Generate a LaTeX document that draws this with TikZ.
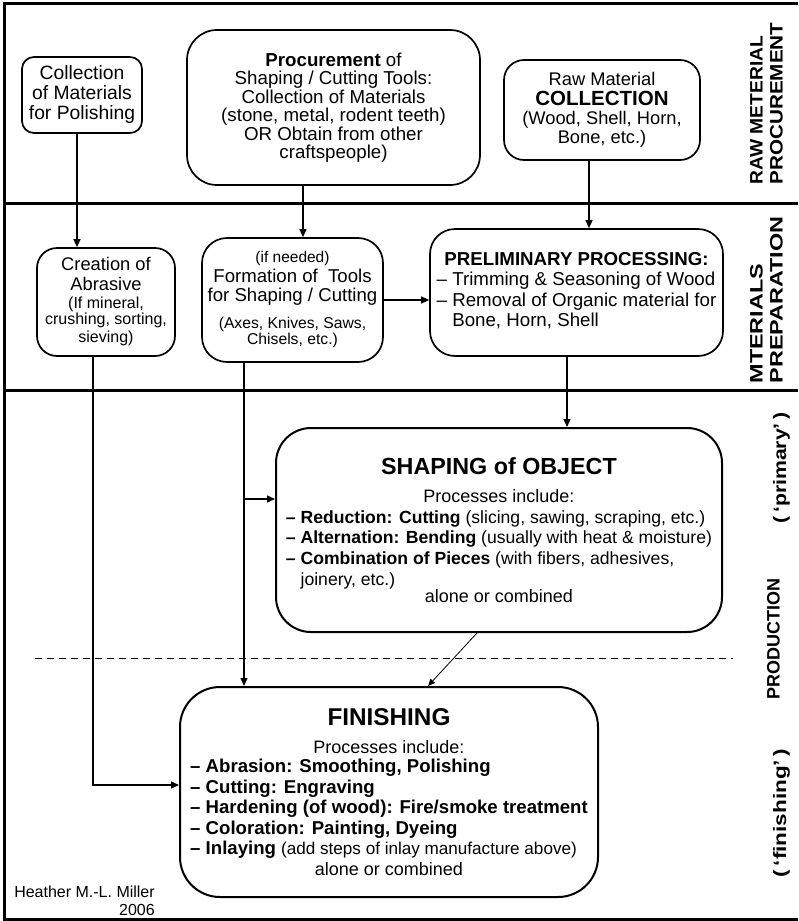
\documentclass[tikz,border=0pt]{standalone}
\usepackage{fontspec}
\setmainfont{Liberation Sans}
\usetikzlibrary{arrows.meta}
\newcommand\fsz[2]{\fontsize{#1}{#2}\selectfont}
\tikzset{
  stepbox/.style={draw,line width=1.7pt,align=center,inner sep=0pt},
  flow/.style={line width=1.4pt,-{Triangle[length=8pt,width=7pt]}},
  band/.style={line width=3pt},
  sidetext/.style={rotate=90,inner sep=0pt,align=left,font=\bfseries\fsz{18}{20}}
}
\begin{document}
\begin{tikzpicture}[x=1pt,y=-1pt]
\useasboundingbox (0,0) rectangle (798,921);
% frame and bands
\draw[band] (798,3) -- (4,3) -- (4,919) -- (798,919);
\draw[band] (4,203) -- (798,203);
\draw[band] (4,390) -- (798,390);
\draw[line width=1pt,dash pattern=on 7pt off 5pt] (35,658) -- (733,658);

% procurement row
\node[stepbox,rounded corners=12pt,minimum width=120pt,minimum height=76pt,font=\fsz{19.3}{20}] (polish) at (82,95)
  {Collection\\of Materials\\for Polishing};
\node[stepbox,rounded corners=30pt,minimum width=293pt,minimum height=155pt,font=\fsz{18.7}{18.5}] (procure) at (333.5,107.5)
  {\textbf{Procurement} of\\Shaping / Cutting Tools:\\Collection of Materials\\(stone, metal, rodent teeth)\\OR Obtain from other\\craftspeople)};
\node[stepbox,rounded corners=20pt,minimum width=196pt,minimum height=100pt,font=\fsz{18.3}{19.5}] (rawcol) at (602,110)
  {Raw Material\\[1pt]\bfseries\fsz{20.5}{22}COLLECTION\\[-1pt](Wood, Shell, Horn,\\Bone, etc.)};

% preparation row
\node[stepbox,rounded corners=20pt,minimum width=138pt,minimum height=108pt,font=\fsz{18.3}{19}] (abrasive) at (106,302)
  {Creation of\\[1pt]Abrasive\\[-1pt]\fsz{16}{17}(If mineral,\\[-3pt]\fsz{16}{17}crushing, sorting,\\[-1pt]\fsz{16}{17}sieving)};
\node[stepbox,rounded corners=25pt,minimum width=181pt,minimum height=124pt,font=\fsz{18.6}{19.5}] (formtool) at (292.5,300)
  {\fsz{15.5}{16}(if needed)\\Formation of~ Tools\\for Shaping / Cutting\\[7pt]\fsz{15.7}{16}(Axes, Knives, Saws,\\[-3pt]\fsz{15.7}{16}Chisels, etc.)};
\node[stepbox,rounded corners=25pt,minimum width=293pt,minimum height=127pt,font=\fsz{18.7}{20.5}] (prelim) at (576.5,292.5)
  {\textbf{PRELIMINARY PROCESSING:}\\
   \begin{tabular}[t]{@{}l@{}}– Trimming \& Seasoning of Wood\\– Removal of Organic material for\\\hphantom{–}\ Bone, Horn, Shell\end{tabular}};

% production row
\node[stepbox,line width=2pt,rounded corners=35pt,minimum width=446pt,minimum height=204pt,font=\fsz{18}{20}] (shaping) at (499,530)
  {\bfseries\fsz{23.3}{26}SHAPING of OBJECT\\[8pt]Processes include:\\[1pt]
   \fsz{17.6}{20.7}\begin{tabular}[t]{@{}l@{}}
   \textbf{– Reduction: Cutting} (slicing, sawing, scraping, etc.)\\
   \textbf{– Alternation: Bending} (usually with heat \& moisture)\\
   \textbf{– Combination of Pieces} (with fibers, adhesives,\\
   \hphantom{–}\ joinery, etc.)\end{tabular}\\[-3pt]
   alone or combined};
\node[stepbox,line width=2pt,rounded corners=40pt,minimum width=418pt,minimum height=210pt,font=\fsz{18}{20}] (finish) at (389,792)
  {\bfseries\fsz{24.3}{26}FINISHING\\[8pt]Processes include:\\[-1pt]
   \fsz{18.6}{20.5}\begin{tabular}[t]{@{}l@{}}
   \textbf{– Abrasion: Smoothing, Polishing}\\
   \textbf{– Cutting: Engraving}\\
   \textbf{– Hardening (of wood): Fire/smoke treatment}\\
   \textbf{– Coloration: Painting, Dyeing}\\
   \textbf{– Inlaying} {\fsz{17.1}{20.5}(add steps of inlay manufacture above)}\end{tabular}\\[0pt]
   alone or combined};

% side labels
\node[sidetext] (rawlbl) at (766.5,103.5)
  {\scalebox{1.07}[1]{RAW METERIAL}\\\scalebox{1.15}[1]{PROCUREMENT}};
\node[sidetext] (preplbl) at (766.5,300)
  {\scalebox{1.3}[1]{MTERIALS}\\\scalebox{1.3}[1]{PREPARATION}};
\node[sidetext] (primlbl) at (781.5,468) {\scalebox{1.18}[1]{(\,‘primary’\,)}};
\node[sidetext] (prodlbl) at (773.5,639) {PRODUCTION};
\node[sidetext] (finlbl) at (781.5,813) {\scalebox{1.25}[1]{(\,‘finishing’\,)}};

\node[align=right,inner sep=0pt,font=\fsz{16}{18}] (author) at (84.5,901) {Heather M.-L. Miller\\2006};

% connectors
\coordinate (drop) at ([xshift=-48.5pt]formtool.south);
\coordinate (shapein) at ([yshift=31pt]shaping.west);
\coordinate (abrout) at ([xshift=-13pt]abrasive.south);
\coordinate (finin) at ([yshift=7pt]finish.west);
\draw[flow] ([xshift=-5pt]polish.south) -- ([xshift=-5pt]polish.south |- abrasive.north);
\draw[flow] ([xshift=10.5pt]formtool.north |- procure.south) -- ([xshift=10.5pt]formtool.north);
\draw[flow] ([xshift=12.5pt]prelim.north |- rawcol.south) -- ([xshift=12.5pt]prelim.north);
\draw[flow] (formtool.east) -- (formtool.east -| prelim.west);
\draw[flow] ([xshift=-9.5pt]prelim.south) -- ([xshift=-9.5pt]prelim.south |- shaping.north);
\draw[flow] (abrout) |- (finin);
\draw[flow] (drop) -- (drop |- finish.north);
\draw[flow] (drop |- shapein) -- (shapein);
\draw[line width=0.8pt,-{Triangle[length=7pt,width=6pt]}] ([xshift=-22pt]shaping.south) -- ([xshift=39pt]finish.north);
\end{tikzpicture}
\end{document}
